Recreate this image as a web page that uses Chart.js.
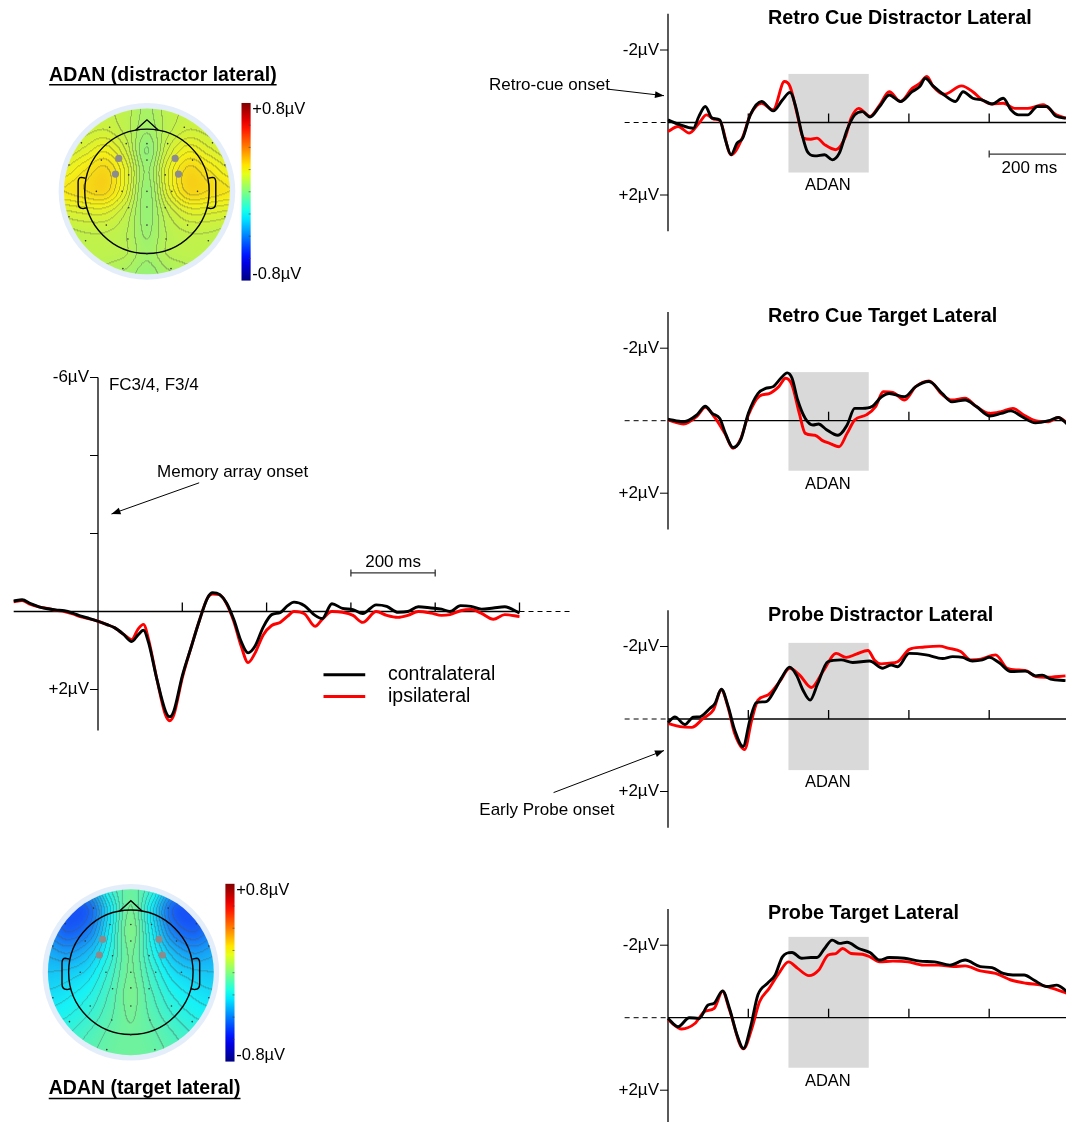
<!DOCTYPE html>
<html>
<head>
<meta charset="utf-8">
<title>ADAN</title>
<script src="https://cdn.jsdelivr.net/npm/chart.js@4.4.1/dist/chart.umd.min.js"></script>
<style>
  html, body { margin: 0; padding: 0; background: #fff; overflow: hidden; }
  body { position: relative; width: 1066px; height: 1122px; }
  canvas { position: absolute; }
</style>
</head>
<body>
<canvas id="topoDist" width="330" height="245" style="left:0;top:50px"></canvas>
<canvas id="main" width="580" height="380" style="left:0;top:360px"></canvas>
<canvas id="topoTarget" width="330" height="252" style="left:0;top:870px"></canvas>
<canvas id="rcd" width="596" height="298" style="left:470px;top:0"></canvas>
<canvas id="rct" width="596" height="298" style="left:470px;top:298px"></canvas>
<canvas id="pd" width="596" height="299" style="left:470px;top:596px"></canvas>
<canvas id="pt" width="596" height="227" style="left:470px;top:895px"></canvas>
<script>
var FONT = '"Liberation Sans", Arial, Helvetica, sans-serif';

// memory array onset, FC3/4 F3/4  (ms, µV; negative is drawn up)
var mainTime = [-200,-180,-160,-140,-120,-100,-80,-60,-40,-20,0,20,40,60,80,95,108,120,140,160,170,180,200,220,240,260,272,288,305,322,340,356,372,392,412,432,450,465,490,515,532,555,580,605,628,660,685,712,735,760,790,815,835,860,885,910,938,965,1000];
var mainContra = [-0.27,-0.30,-0.20,-0.12,-0.07,-0.04,-0.02,0.04,0.12,0.18,0.25,0.33,0.42,0.58,0.77,0.60,0.48,0.80,1.75,2.55,2.70,2.55,1.65,0.95,0.25,-0.35,-0.48,-0.44,-0.22,0.20,0.78,1.06,0.90,0.40,0.08,0.03,-0.15,-0.24,-0.15,0.10,0.18,-0.20,-0.08,-0.05,0.05,-0.17,-0.13,0.02,0.0,-0.12,-0.09,-0.06,0.0,-0.15,-0.13,-0.06,-0.09,-0.12,0.04];
var mainIpsi = [-0.25,-0.28,-0.18,-0.12,-0.08,-0.03,0.0,0.06,0.14,0.19,0.25,0.33,0.42,0.58,0.72,0.45,0.33,0.72,1.75,2.65,2.80,2.65,1.70,0.95,0.25,-0.35,-0.45,-0.43,-0.20,0.25,0.90,1.31,1.08,0.60,0.36,0.28,0.12,0.0,0.06,0.38,0.20,0.0,0.02,0.10,0.28,0.0,0.10,0.15,0.10,0.0,0.04,0.10,0.08,-0.02,-0.05,0.05,0.20,0.08,0.13];

// Retro Cue Distractor Lateral
var rcdContraTime = [0,29,63,77,93,110,129,143,157,172,186,205,233,262,285,304,318,333,347,366,390,409,427,446,465,484,503,527,551,579,608,627,641,660,688,716,735,759,783,807,835,854,873,896,920,943,967,991];
var rcdContraUV = [-0.07,0.06,0.16,-0.17,-0.44,-0.12,-0.07,0.48,0.89,0.57,0.43,-0.21,-0.58,-0.32,-0.62,-0.83,-0.44,0.29,0.80,0.92,0.89,1.03,0.84,0.20,-0.21,-0.30,-0.15,-0.44,-0.76,-0.58,-0.85,-0.99,-1.22,-1.01,-0.76,-0.58,-0.85,-0.67,-0.62,-0.51,-0.67,-0.35,-0.21,-0.21,-0.44,-0.44,-0.17,-0.12];
var rcdIpsiTime = [0,25,53,77,96,115,129,157,186,205,233,262,290,304,323,337,356,371,390,418,442,456,475,503,527,551,579,608,627,645,660,688,731,759,783,807,835,863,896,934,967,991];
var rcdIpsiUV = [0.25,0.11,0.29,0.02,-0.21,-0.09,-0.05,0.89,0.40,-0.21,-0.53,-0.35,-1.13,-0.99,-0.17,0.43,0.46,0.43,0.61,0.75,0.39,-0.12,-0.39,-0.17,-0.48,-0.85,-0.58,-0.94,-1.08,-1.27,-1.0,-0.78,-1.01,-0.85,-0.62,-0.51,-0.53,-0.39,-0.39,-0.49,-0.21,-0.12];

// Retro Cue Target Lateral
var rctContraTime = [0,39,72,93,110,129,143,162,181,200,224,243,262,281,297,309,323,342,361,375,394,423,446,465,484,508,532,551,589,617,650,683,707,740,768,802,830,854,882,915,948,972,994];
var rctContraUV = [-0.04,0.03,-0.16,-0.40,-0.20,-0.06,0.35,0.74,0.53,-0.20,-0.75,-0.89,-0.94,-1.17,-1.32,-1.17,-0.57,-0.06,0.12,0.09,0.24,0.40,0.12,-0.34,-0.34,-0.39,-0.66,-0.75,-0.66,-0.94,-1.08,-0.75,-0.52,-0.57,-0.39,-0.13,-0.20,-0.27,-0.11,0.06,0,-0.09,0.09];
var rctIpsiTime = [0,39,72,93,115,143,162,181,200,228,252,276,293,309,327,342,366,385,404,426,446,465,494,517,536,560,589,617,650,683,707,740,768,802,830,859,887,915,948,972,994];
var rctIpsiUV = [-0.02,0.09,-0.12,-0.37,-0.11,0.38,0.76,0.50,-0.15,-0.68,-0.75,-0.94,-1.17,-0.98,-0.20,0.35,0.40,0.55,0.63,0.72,0.35,-0.02,-0.16,-0.39,-0.80,-0.78,-0.57,-0.94,-1.10,-0.72,-0.57,-0.62,-0.39,-0.20,-0.25,-0.34,-0.15,0.0,0.03,-0.09,0.06];

// Probe Distractor Lateral
var pdContraTime = [0,17,42,63,79,104,117,133,150,166,187,204,220,245,266,282,303,320,336,354,373,398,431,460,502,535,556,572,601,643,684,709,734,758,783,800,825,854,891,916,932,953,990];
var pdContraUV = [0.10,-0.06,0.15,-0.05,-0.06,-0.29,-0.43,-0.82,-0.34,0.30,0.76,0.03,-0.45,-0.48,-0.80,-1.12,-1.43,-1.21,-0.80,-0.52,-0.98,-1.58,-1.63,-1.56,-1.60,-1.40,-1.49,-1.44,-1.81,-1.77,-1.67,-1.72,-1.70,-1.60,-1.63,-1.70,-1.55,-1.31,-1.32,-1.19,-1.21,-1.10,-1.06];
var pdIpsiTime = [0,30,59,88,113,133,150,166,191,208,224,249,278,303,328,357,386,419,444,469,498,514,531,551,572,601,634,676,700,729,754,779,816,845,874,895,916,941,990];
var pdIpsiUV = [0.12,0.21,0.23,-0.02,-0.25,-0.80,-0.30,0.40,0.84,0.05,-0.52,-0.66,-1.03,-1.40,-1.21,-0.87,-1.31,-1.81,-1.70,-1.79,-1.89,-1.63,-1.52,-1.54,-1.58,-1.92,-1.98,-2.01,-1.95,-1.86,-1.63,-1.65,-1.77,-1.40,-1.35,-1.32,-1.17,-1.15,-1.19];

// Probe Target Lateral
var ptContraTime = [0,25,53,77,100,115,136,153,172,188,205,224,248,267,285,309,333,356,371,390,409,427,446,475,503,527,551,589,627,664,702,740,778,807,835,859,887,911,944,968,994];
var ptContraUV = [0.02,0.25,0,0.02,-0.35,-0.40,-0.74,-0.26,0.48,0.85,0.29,-0.63,-0.95,-1.18,-1.68,-1.80,-1.64,-1.66,-1.66,-1.91,-2.14,-2.05,-2.08,-1.91,-1.80,-1.59,-1.66,-1.64,-1.56,-1.54,-1.45,-1.59,-1.41,-1.38,-1.22,-1.18,-1.18,-1.04,-0.86,-0.90,-0.72];
var ptIpsiTime = [0,34,67,91,115,136,153,188,209,228,252,276,300,323,351,375,399,418,435,456,484,503,527,560,598,636,674,712,740,778,816,854,892,930,958,994];
var ptIpsiUV = [0.06,0.31,0.16,-0.17,-0.26,-0.73,-0.22,0.86,0.29,-0.44,-0.81,-1.22,-1.54,-1.36,-1.16,-1.31,-1.73,-1.77,-1.91,-1.77,-1.75,-1.68,-1.54,-1.56,-1.54,-1.45,-1.45,-1.41,-1.43,-1.29,-1.22,-1.04,-0.95,-0.90,-0.81,-0.67];

var adanWindow = [300, 500];
var adanBoxUV = [[-1.34, 1.38], [-1.34, 1.38], [-2.10, 1.41], [-2.23, 1.38]];
var panelTicks = [200, 400, 600, 800];
var panelYTicks = [-2, 2];
var mainTicks = [200, 400, 600, 800, 1000];
var mainYTicks = [-6, -4, -2, 2];

// topographies, rows from front (v = 1) to back (v = -1), columns left to right
var topoDistractor = [
  [0.10,0.10,0.11,0.10,0.06,0.10,0.11,0.10,0.10],
  [0.11,0.12,0.13,0.10,0.05,0.10,0.13,0.12,0.11],
  [0.13,0.16,0.19,0.13,0.02,0.13,0.19,0.16,0.13],
  [0.18,0.22,0.25,0.17,0.04,0.17,0.25,0.22,0.18],
  [0.22,0.24,0.25,0.16,0.03,0.16,0.25,0.24,0.22],
  [0.15,0.16,0.16,0.11,0.03,0.11,0.16,0.16,0.15],
  [0.10,0.11,0.11,0.09,0.04,0.09,0.11,0.11,0.10],
  [0.09,0.10,0.10,0.09,0.05,0.09,0.10,0.10,0.09],
  [0.09,0.09,0.08,0.06,0.03,0.06,0.08,0.09,0.09]
];
var topoTarget = [
  [-0.35,-0.40,-0.35,-0.15,-0.05,-0.15,-0.35,-0.40,-0.35],
  [-0.42,-0.48,-0.45,-0.22,-0.03,-0.22,-0.45,-0.48,-0.42],
  [-0.40,-0.46,-0.40,-0.20,-0.01,-0.20,-0.40,-0.46,-0.40],
  [-0.33,-0.36,-0.30,-0.17,-0.03,-0.17,-0.30,-0.36,-0.33],
  [-0.28,-0.27,-0.23,-0.13,-0.03,-0.13,-0.23,-0.27,-0.28],
  [-0.24,-0.22,-0.18,-0.10,-0.02,-0.10,-0.18,-0.22,-0.24],
  [-0.20,-0.18,-0.14,-0.08,-0.03,-0.08,-0.14,-0.18,-0.20],
  [-0.16,-0.14,-0.10,-0.06,-0.04,-0.06,-0.10,-0.14,-0.16],
  [-0.14,-0.12,-0.08,-0.05,-0.04,-0.05,-0.08,-0.12,-0.14]
];
var colorLimits = [-0.8, 0.8];
var roiSites = [[-0.34,0.40],[0.34,0.40],[-0.38,0.21],[0.38,0.21]];
var sensorSites = [[-0.79,0.59],[-0.25,0.58],[0,0.58],[0.25,0.58],[0.79,0.59],[-0.55,0.38],[0,0.38],[0.55,0.38],
  [-0.94,0.32],[0.94,0.32],[-0.22,0.20],[0.22,0.20],[-0.61,0],[-0.30,0],[0,0],[0.30,0],[0.61,0],
  [-0.94,-0.31],[0.94,-0.31],[-0.22,-0.2],[0,-0.19],[0.22,-0.2],[-0.49,-0.41],[0,-0.41],[0.49,-0.41],
  [-0.74,-0.60],[-0.23,-0.58],[0.23,-0.58],[0.74,-0.60],[0,-0.76],[-0.29,-0.94],[0.29,-0.94],[-0.45,0.78],[0.45,0.78]];

// ---------- helpers ----------
function series(times, vals, color) {
  return {
    data: times.map(function (t, i) { return {x: t, y: vals[i]}; }),
    borderColor: color, borderWidth: 2.9, pointRadius: 0,
    cubicInterpolationMode: 'monotone', fill: false
  };
}

function arrow(ctx, x1, y1, x2, y2) {
  var a = Math.atan2(y2 - y1, x2 - x1);
  ctx.beginPath(); ctx.moveTo(x1, y1); ctx.lineTo(x2, y2); ctx.stroke();
  ctx.beginPath();
  ctx.moveTo(x2, y2);
  ctx.lineTo(x2 - 9 * Math.cos(a) + 3.5 * Math.sin(a), y2 - 9 * Math.sin(a) - 3.5 * Math.cos(a));
  ctx.lineTo(x2 - 9 * Math.cos(a) - 3.5 * Math.sin(a), y2 - 9 * Math.sin(a) + 3.5 * Math.cos(a));
  ctx.closePath(); ctx.fill();
}

function text(ctx, s, x, y, size, align, bold) {
  ctx.font = (bold ? 'bold ' : '') + size + 'px ' + FONT;
  ctx.textAlign = align || 'left';
  ctx.textBaseline = 'middle';
  ctx.fillText(s, x, y);
}

// o: axis / decoration description in data units
function erpDecor(o) {
  return {
    id: 'erpDecor',
    beforeDatasetsDraw: function (chart) {
      var ctx = chart.ctx, xs = chart.scales.x, ys = chart.scales.y;
      var X = function (t) { return xs.getPixelForValue(t); };
      var Y = function (v) { return ys.getPixelForValue(v); };
      ctx.save();
      if (o.box) {
        ctx.fillStyle = '#d9d9d9';
        ctx.fillRect(X(adanWindow[0]), Y(o.box[0]), X(adanWindow[1]) - X(adanWindow[0]), Y(o.box[1]) - Y(o.box[0]));
      }
      ctx.strokeStyle = '#000'; ctx.lineWidth = 1.3;
      ctx.beginPath(); ctx.moveTo(X(o.zeroFrom), Y(0)); ctx.lineTo(X(o.zeroTo), Y(0)); ctx.stroke();
      ctx.setLineDash([5, 4]); ctx.lineWidth = 1;
      ctx.beginPath(); ctx.moveTo(X(o.dashFrom), Y(0)); ctx.lineTo(X(o.dashTo), Y(0)); ctx.stroke();
      ctx.setLineDash([]); ctx.lineWidth = 1.3;
      o.ticks.forEach(function (t) {
        ctx.beginPath(); ctx.moveTo(X(t), Y(0)); ctx.lineTo(X(t), Y(0) - 9); ctx.stroke();
      });
      ctx.beginPath(); ctx.moveTo(X(0), Y(o.axis[0])); ctx.lineTo(X(0), Y(o.axis[1])); ctx.stroke();
      ctx.lineWidth = 1;
      o.yTicks.forEach(function (v) {
        ctx.beginPath(); ctx.moveTo(X(0) - 8, Y(v)); ctx.lineTo(X(0), Y(v)); ctx.stroke();
      });
      ctx.restore();
    },
    afterDatasetsDraw: function (chart) {
      var ctx = chart.ctx, xs = chart.scales.x, ys = chart.scales.y;
      var X = function (t) { return xs.getPixelForValue(t); };
      var Y = function (v) { return ys.getPixelForValue(v); };
      ctx.save();
      ctx.fillStyle = '#000'; ctx.strokeStyle = '#000'; ctx.lineWidth = 1;
      o.yTicks.forEach(function (v) {
        if (o.yLabels.indexOf(v) < 0) return;
        text(ctx, (v < 0 ? '-' : '+') + Math.abs(v) + 'µV', X(0) - 9, Y(v), 17, 'right');
      });
      (o.labels || []).forEach(function (l) {
        text(ctx, l.s, X(l.t), Y(l.v), l.size || 17, l.align, l.bold);
      });
      (o.arrows || []).forEach(function (a) { arrow(ctx, X(a[0]), Y(a[1]), X(a[2]), Y(a[3])); });
      if (o.scaleBar) {
        var b = o.scaleBar;
        ctx.strokeStyle = '#333'; ctx.lineWidth = 1.3;
        ctx.beginPath(); ctx.moveTo(X(b.from), Y(b.v)); ctx.lineTo(X(b.to), Y(b.v)); ctx.stroke();
        [b.from, b.to].forEach(function (t) {
          ctx.beginPath(); ctx.moveTo(X(t), Y(b.v) - 3.5); ctx.lineTo(X(t), Y(b.v) + 3.5); ctx.stroke();
        });
        text(ctx, '200 ms', X((b.from + b.to) / 2), Y(b.textV), 17, 'center');
      }
      if (o.legend) {
        o.legend.forEach(function (g) {
          ctx.strokeStyle = g.color; ctx.lineWidth = 3;
          ctx.beginPath(); ctx.moveTo(X(g.t0), Y(g.v)); ctx.lineTo(X(g.t1), Y(g.v)); ctx.stroke();
          text(ctx, g.s, X(g.tt), Y(g.v), 19.5, 'left');
        });
      }
      ctx.restore();
    }
  };
}

function erpChart(id, datasets, xr, yr, decor) {
  return new Chart(document.getElementById(id).getContext('2d'), {
    type: 'line',
    data: {datasets: datasets},
    options: {
      responsive: false, animation: false, events: [],
      layout: {padding: 0},
      scales: {
        x: {type: 'linear', display: false, min: xr[0], max: xr[1]},
        y: {type: 'linear', display: false, min: yr[0], max: yr[1], reverse: true}
      },
      plugins: {legend: {display: false}, tooltip: {enabled: false}}
    },
    plugins: [erpDecor(decor)]
  });
}

// ---------- main waveform ----------
// 0 ms at x = 98 px, 0.4215 px/ms; 0 µV at 251.5 px below canvas top, 39 px/µV
erpChart('main',
  [series(mainTime, mainContra, '#000'), series(mainTime, mainIpsi, '#f00')],
  [-98 / 0.4215, 482 / 0.4215], [-251.5 / 39, 128.5 / 39],
  {
    zeroFrom: -200, zeroTo: 1000, dashFrom: 1000, dashTo: 1120,
    ticks: mainTicks, axis: [-6, 3.05], yTicks: mainYTicks, yLabels: [-6, 2],
    labels: [
      {s: 'FC3/4, F3/4', t: 26, v: -5.8},
      {s: 'Memory array onset', t: 140, v: -3.56}
    ],
    arrows: [[240, -3.3, 32, -2.5]],
    scaleBar: {from: 600, to: 800, v: -0.99, textV: -1.25},
    legend: [
      {s: 'contralateral', color: '#000', t0: 535, t1: 634, tt: 688, v: 1.62},
      {s: 'ipsilateral', color: '#f00', t0: 535, t1: 634, tt: 688, v: 2.18}
    ]
  });

// ---------- right column ----------
// 0 ms at 198 px into each canvas, 0.4015 px/ms; 36.25 px/µV
var PXMS = 0.4015, PXUV = 36.25;
var panels = [
  {id: 'rcd', h: 298, zero: 122.5, title: 'Retro Cue Distractor Lateral',
   data: [series(rcdContraTime, rcdContraUV, '#000'), series(rcdIpsiTime, rcdIpsiUV, '#f00')]},
  {id: 'rct', h: 298, zero: 122.7, title: 'Retro Cue Target Lateral',
   data: [series(rctContraTime, rctContraUV, '#000'), series(rctIpsiTime, rctIpsiUV, '#f00')]},
  {id: 'pd', h: 299, zero: 123, title: 'Probe Distractor Lateral',
   data: [series(pdContraTime, pdContraUV, '#000'), series(pdIpsiTime, pdIpsiUV, '#f00')]},
  {id: 'pt', h: 227, zero: 122.7, title: 'Probe Target Lateral',
   data: [series(ptContraTime, ptContraUV, '#000'), series(ptIpsiTime, ptIpsiUV, '#f00')]}
];
panels.forEach(function (p, i) {
  var d = {
    box: adanBoxUV[i], zeroFrom: 0, zeroTo: 1000, dashFrom: -108, dashTo: 0,
    ticks: panelTicks, axis: [-3, 3], yTicks: panelYTicks, yLabels: panelYTicks,
    labels: [
      {s: p.title, t: 249, v: -2.86, size: 19.8, bold: true},
      {s: 'ADAN', t: 398, v: 1.75, size: 16.5, align: 'center'}
    ],
    arrows: []
  };
  if (i === 0) {
    d.labels.push({s: 'Retro-cue onset', t: -446, v: -1.03});
    d.arrows.push([-150, -0.92, -10, -0.74]);
    d.scaleBar = {from: 800, to: 1000, v: 0.87, textV: 1.26};
  }
  if (i === 2) {
    d.labels.push({s: 'Early Probe onset', t: -470, v: 2.51});
    d.arrows.push([-285, 2.03, -10, 0.87]);
  }
  erpChart(p.id, p.data, [-198 / PXMS, 398 / PXMS], [-p.zero / PXUV, (p.h - p.zero) / PXUV], d);
});

// ---------- topographies ----------
function jet(val) {
  var t = (val - colorLimits[0]) / (colorLimits[1] - colorLimits[0]);
  t = Math.max(0, Math.min(1, t));
  var c = function (x) { return Math.max(0, Math.min(1, x)); };
  var r = c(1.5 - Math.abs(4 * t - 3)), g = c(1.5 - Math.abs(4 * t - 2)), b = c(1.5 - Math.abs(4 * t - 1));
  return [r * 255, g * 255, b * 255];
}

// slightly softened version used on the scalp maps
function mapColor(val) {
  var c = jet(val);
  return [c[0] * 0.88 + 22, c[1] * 0.88 + 18, c[2] * 0.88 + 22];
}

function catmull(p0, p1, p2, p3, t) {
  return p1 + 0.5 * t * (p2 - p0 + t * (2 * p0 - 5 * p1 + 4 * p2 - p3 + t * (3 * (p1 - p2) + p3 - p0)));
}

function sampleGrid(grid, u, v) {
  var n = grid.length;
  var gx = (u + 1) / 2 * (n - 1), gy = (1 - v) / 2 * (n - 1);
  var ix = Math.floor(gx), iy = Math.floor(gy), fx = gx - ix, fy = gy - iy;
  var g = function (r, c) {
    return grid[Math.min(n - 1, Math.max(0, r))][Math.min(n - 1, Math.max(0, c))];
  };
  var rows = [];
  for (var k = -1; k <= 2; k++) {
    rows.push(catmull(g(iy + k, ix - 1), g(iy + k, ix), g(iy + k, ix + 1), g(iy + k, ix + 2), fx));
  }
  return catmull(rows[0], rows[1], rows[2], rows[3], fy);
}

function topoDecor(grid, step, title, titleAt) {
  return {
    id: 'topoDecor',
    beforeDatasetsDraw: function (chart) {
      var ctx = chart.ctx, xs = chart.scales.x, ys = chart.scales.y;
      var X = function (u) { return xs.getPixelForValue(u); };
      var Y = function (v) { return ys.getPixelForValue(v); };
      var cx = X(0), cy = Y(0), R = X(1) - cx;
      ctx.save();
      ctx.fillStyle = '#e4eefa';
      ctx.beginPath(); ctx.arc(cx, cy, R * 1.065, 0, Math.PI * 2); ctx.fill();

      var n = Math.ceil(2 * R) + 2, half = n / 2;
      var off = document.createElement('canvas');
      off.width = n; off.height = n;
      var octx = off.getContext('2d');
      var img = octx.createImageData(n, n);
      var vals = new Float32Array(n * n), lev = new Int32Array(n * n);
      var i, j, k;
      for (j = 0; j < n; j++) {
        for (i = 0; i < n; i++) {
          k = j * n + i;
          vals[k] = sampleGrid(grid, (i + 0.5 - half) / R, (half - j - 0.5) / R);
          lev[k] = Math.floor(vals[k] / step);
        }
      }
      for (j = 0; j < n; j++) {
        for (i = 0; i < n; i++) {
          k = j * n + i;
          var col = mapColor(vals[k]);
          var edge = (i + 1 < n && lev[k + 1] !== lev[k]) || (j + 1 < n && lev[k + n] !== lev[k]);
          var a = edge ? 0.38 : 0;
          img.data[k * 4] = col[0] * (1 - a) + 80 * a;
          img.data[k * 4 + 1] = col[1] * (1 - a) + 80 * a;
          img.data[k * 4 + 2] = col[2] * (1 - a) + 80 * a;
          img.data[k * 4 + 3] = 255;
        }
      }
      octx.putImageData(img, 0, 0);
      ctx.save();
      ctx.beginPath(); ctx.arc(cx, cy, R, 0, Math.PI * 2); ctx.clip();
      ctx.drawImage(off, cx - half, cy - half);
      ctx.restore();

      // head, nose, ears
      ctx.strokeStyle = '#000'; ctx.lineWidth = 1.4;
      ctx.beginPath(); ctx.arc(cx, cy, R * 0.75, 0, Math.PI * 2); ctx.stroke();
      ctx.beginPath();
      ctx.moveTo(X(-0.135), Y(0.745)); ctx.lineTo(X(0), Y(0.87)); ctx.lineTo(X(0.135), Y(0.745));
      ctx.stroke();
      [-1, 1].forEach(function (s) {
        ctx.beginPath();
        ctx.moveTo(X(s * 0.74), Y(0.16));
        ctx.lineTo(X(s * 0.79), Y(0.17));
        ctx.quadraticCurveTo(X(s * 0.83), Y(0.17), X(s * 0.83), Y(0.11));
        ctx.lineTo(X(s * 0.83), Y(-0.14));
        ctx.quadraticCurveTo(X(s * 0.83), Y(-0.21), X(s * 0.77), Y(-0.21));
        ctx.lineTo(X(s * 0.725), Y(-0.2));
        ctx.stroke();
      });
      ctx.restore();
    },
    afterDraw: function (chart) {
      var ctx = chart.ctx, xs = chart.scales.x, ys = chart.scales.y;
      var X = function (u) { return xs.getPixelForValue(u); };
      var Y = function (v) { return ys.getPixelForValue(v); };
      ctx.save();
      // colour bar
      var x0 = X(1.14), x1 = X(1.25), y0 = Y(1.075), y1 = Y(-1.085);
      var grad = ctx.createLinearGradient(0, y0, 0, y1);
      for (var s = 0; s <= 20; s++) {
        var c = jet(colorLimits[1] - s / 20 * (colorLimits[1] - colorLimits[0]));
        grad.addColorStop(s / 20, 'rgb(' + Math.round(c[0]) + ',' + Math.round(c[1]) + ',' + Math.round(c[2]) + ')');
      }
      ctx.fillStyle = grad;
      ctx.fillRect(x0, y0, x1 - x0, y1 - y0);
      ctx.strokeStyle = 'rgba(60,60,60,0.6)'; ctx.lineWidth = 1;
      for (var q = 1; q < 8; q++) {
        var yy = y0 + (y1 - y0) * q / 8;
        ctx.beginPath(); ctx.moveTo(x1 - 2, yy); ctx.lineTo(x1, yy); ctx.stroke();
      }
      ctx.fillStyle = '#000';
      text(ctx, '+0.8µV', X(1.27), Y(1.0), 16.5, 'left');
      text(ctx, '-0.8µV', X(1.27), Y(-1.01), 16.5, 'left');
      // title, underlined
      text(ctx, title, X(titleAt[0]), Y(titleAt[1]), 19.5, 'left', true);
      var w = ctx.measureText(title).width;
      ctx.strokeStyle = '#000'; ctx.lineWidth = 1.6;
      ctx.beginPath();
      ctx.moveTo(X(titleAt[0]), Y(titleAt[1]) + 9.5);
      ctx.lineTo(X(titleAt[0]) + w, Y(titleAt[1]) + 9.5);
      ctx.stroke();
      ctx.restore();
    }
  };
}

function topoChart(id, grid, step, title, titleAt, xr, yr) {
  var pts = function (list) { return list.map(function (p) { return {x: p[0], y: p[1]}; }); };
  return new Chart(document.getElementById(id).getContext('2d'), {
    type: 'scatter',
    data: {
      datasets: [
        {data: pts(roiSites), pointRadius: 3.6, pointBackgroundColor: '#8c8c8c', pointBorderWidth: 0},
        {data: pts(sensorSites), pointRadius: 0.8, pointBackgroundColor: '#333', pointBorderWidth: 0}
      ]
    },
    options: {
      responsive: false, animation: false, events: [],
      layout: {padding: 0},
      scales: {
        x: {type: 'linear', display: false, min: xr[0], max: xr[1]},
        y: {type: 'linear', display: false, min: yr[0], max: yr[1]}
      },
      plugins: {legend: {display: false}, tooltip: {enabled: false}}
    },
    plugins: [topoDecor(grid, step, title, titleAt)]
  });
}

// 85 px per unit radius
topoChart('topoDist', topoDistractor, 0.022, 'ADAN (distractor lateral)', [-1.18, 1.412],
  [-146.5 / 85, 183.5 / 85], [-103 / 85, 142 / 85]);
topoChart('topoTarget', topoTarget, 0.035, 'ADAN (target lateral)', [-0.99, -1.418],
  [-130 / 85, 200 / 85], [-150.5 / 85, 101.5 / 85]);
</script>
</body>
</html>
